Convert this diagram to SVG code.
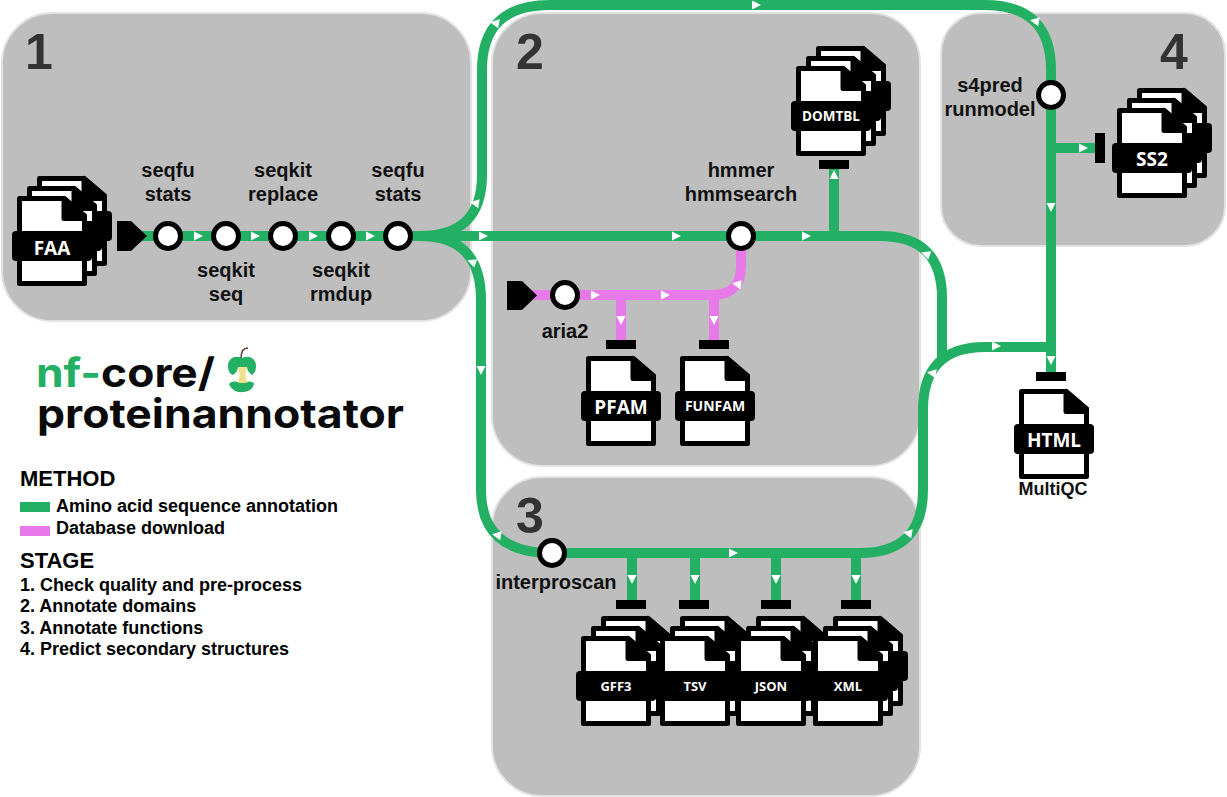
<svg xmlns="http://www.w3.org/2000/svg" xmlns:xlink="http://www.w3.org/1999/xlink" width="1227" height="797" viewBox="0 0 1227 797">
<style>
.panel{fill:#bebebe;stroke:#e2e2e2;stroke-width:2}
.num{font:bold 50px "Liberation Sans",Arial,sans-serif;fill:#333}
.lab{font:bold 20px "Liberation Sans",Arial,sans-serif;fill:#111;text-anchor:middle}
.leg{font:bold 18px "Liberation Sans",Arial,sans-serif;fill:#000}
.head{font:bold 22px "Liberation Sans",Arial,sans-serif;fill:#000}
.logo{font:bold 40px Inter,"Open Sans",sans-serif;fill:#0a0a0a}
.ft{font-family:"Open Sans","Noto Sans",sans-serif;font-weight:700;fill:#fff;text-anchor:middle}
.g{fill:none;stroke:#24b064;stroke-width:10}
.p{fill:none;stroke:#e879e8;stroke-width:10}
.st{fill:#fff;stroke:#000;stroke-width:5}
.bar{fill:#000}
.ah{fill:#fff}
.body{fill:#fff;stroke:#000;stroke-width:5;stroke-linejoin:round}
.fold{fill:#000;stroke:#000;stroke-width:5;stroke-linejoin:round}
</style>
<defs>
<polygon id="a" class="ah" points="-4,-4.500 5,0 -4,4.500"/>
<g id="f">
<path class="body" d="M2.5,2.500H47L67.5,20V87.500H2.500Z"/>
<path class="fold" d="M47,2.500V22.500H67.5V20Z"/>
<rect class="bar" x="-5" y="35" width="80" height="30" rx="4"/>
</g>
<g id="s"><use href="#f" x="20" y="-20"/><use href="#f" x="10" y="-10"/><use href="#f"/></g>
</defs>
<rect class="panel" x="2" y="13" width="469" height="308" rx="50"/>
<rect class="panel" x="492" y="13" width="428" height="453" rx="50"/>
<rect class="panel" x="492" y="477" width="428" height="319" rx="50"/>
<rect class="panel" x="941" y="13" width="284" height="233" rx="40"/>
<text class="num" x="25" y="69">1</text>
<text class="num" x="516" y="69">2</text>
<text class="num" x="516" y="533">3</text>
<text class="num" x="1160" y="69">4</text>
<g id="connectors">
<path class="p" d="M525,295H712Q741,295 741,266V236"/>
<path class="p" d="M621,295V345M714,295V345"/>
<path class="g" d="M135,236H880Q942,236 942,298V360"/>
<path class="g" d="M420,236Q482,236 482,175V70Q482,5 550,5H985Q1051,5 1051,70V375"/>
<path class="g" d="M420,236Q481,236 481,300V490Q481,553 552,553H860Q923,553 923,490V410Q923,347 985,347H1051"/>
<path class="g" d="M834,236V165M1051,148H1098M632,553V603M695,553V603M776,553V603M856,553V603"/>
<use href="#a" transform="translate(198,236)"/><use href="#a" transform="translate(255,236)"/><use href="#a" transform="translate(313,236)"/><use href="#a" transform="translate(370,236)"/>
<use href="#a" transform="translate(483,236)"/><use href="#a" transform="translate(676,236)"/><use href="#a" transform="translate(806,236)"/>
<use href="#a" transform="translate(475,203) rotate(190)"/><use href="#a" transform="translate(495,23) rotate(190)"/><use href="#a" transform="translate(756,5)"/><use href="#a" transform="translate(1035,21) rotate(190)"/>
<use href="#a" transform="translate(1051,207) rotate(90)"/><use href="#a" transform="translate(1051,360) rotate(90)"/><use href="#a" transform="translate(1083,148)"/><use href="#a" transform="translate(834,175) rotate(-90)"/>
<use href="#a" transform="translate(926,254) rotate(200)"/><use href="#a" transform="translate(932,373) rotate(190)"/><use href="#a" transform="translate(996,346)"/>
<use href="#a" transform="translate(472,262) rotate(200)"/><use href="#a" transform="translate(481,370) rotate(90)"/><use href="#a" transform="translate(497,535) rotate(190)"/><use href="#a" transform="translate(733,553)"/><use href="#a" transform="translate(908,533) rotate(190)"/>
<use href="#a" transform="translate(595,295)"/><use href="#a" transform="translate(665,295)"/><use href="#a" transform="translate(621,320) rotate(90)"/><use href="#a" transform="translate(714,320) rotate(90)"/><use href="#a" transform="translate(737,284) rotate(190)"/>
<use href="#a" transform="translate(632,579) rotate(90)"/><use href="#a" transform="translate(695,579) rotate(90)"/><use href="#a" transform="translate(776,579) rotate(90)"/><use href="#a" transform="translate(856,579) rotate(90)"/>
<polygon class="bar" points="117,221 131,221 147,236 131,251 117,251"/>
<polygon class="bar" points="507,281 522,281 537,295.500 522,310 507,310"/>
<rect class="bar" x="606" y="340" width="30" height="9"/><rect class="bar" x="699" y="340" width="30" height="9"/>
<rect class="bar" x="819" y="160" width="30" height="9"/><rect class="bar" x="1095" y="133" width="10" height="30"/><rect class="bar" x="1036" y="372" width="30" height="9"/>
<rect class="bar" x="616" y="600" width="30" height="9"/><rect class="bar" x="679" y="600" width="30" height="9"/><rect class="bar" x="761" y="600" width="30" height="9"/><rect class="bar" x="841" y="600" width="30" height="9"/>
</g>
<g id="st-seqfu1"><circle class="st" cx="168" cy="236" r="12.500"/><text class="lab" x="168" y="177">seqfu</text><text class="lab" x="168" y="201">stats</text></g>
<g id="st-seqkitseq"><circle class="st" cx="226" cy="236" r="12.500"/><text class="lab" x="226" y="277">seqkit</text><text class="lab" x="226" y="301">seq</text></g>
<g id="st-replace"><circle class="st" cx="283" cy="236" r="12.500"/><text class="lab" x="283" y="177">seqkit</text><text class="lab" x="283" y="201">replace</text></g>
<g id="st-rmdup"><circle class="st" cx="341" cy="236" r="12.500"/><text class="lab" x="341" y="277">seqkit</text><text class="lab" x="341" y="301">rmdup</text></g>
<g id="st-seqfu2"><circle class="st" cx="398" cy="236" r="12.500"/><text class="lab" x="398" y="177">seqfu</text><text class="lab" x="398" y="201">stats</text></g>
<g id="st-hmmer"><circle class="st" cx="741" cy="236" r="12.500"/><text class="lab" x="741" y="177">hmmer</text><text class="lab" x="741" y="201">hmmsearch</text></g>
<g id="st-aria2"><circle class="st" cx="565" cy="295" r="12.500"/><text class="lab" x="565" y="338">aria2</text></g>
<g id="st-interpro"><circle class="st" cx="552" cy="553" r="12.500"/><text class="lab" x="556" y="589">interproscan</text></g>
<g id="st-s4pred"><circle class="st" cx="1051" cy="95" r="12.500"/><text class="lab" x="990" y="92">s4pred</text><text class="lab" x="990" y="116">runmodel</text></g>
<g id="file-faa"><use href="#s" x="17" y="196"/><text class="ft" x="52" y="255" font-size="19">FAA</text></g>
<g id="file-domtbl"><use href="#s" x="796" y="66"/><text class="ft" x="831" y="121" font-size="13.500">DOMTBL</text></g>
<g id="file-ss2"><use href="#s" x="1117" y="108"/><text class="ft" x="1152" y="166" font-size="19">SS2</text></g>
<g id="file-pfam"><use href="#f" x="586" y="356"/><text class="ft" x="621" y="414" font-size="19">PFAM</text></g>
<g id="file-funfam"><use href="#f" x="680" y="356"/><text class="ft" x="715" y="411" font-size="14">FUNFAM</text></g>
<g id="file-html"><use href="#f" x="1019" y="389"/><text class="ft" x="1054" y="447" font-size="19">HTML</text><text class="lab" x="1053" y="495" style="font-size:18px">MultiQC</text></g>
<g id="file-gff3"><use href="#s" x="581" y="636"/><text class="ft" x="616" y="691" font-size="13">GFF3</text></g>
<g id="file-tsv"><use href="#s" x="660" y="636"/><text class="ft" x="695" y="691" font-size="13">TSV</text></g>
<g id="file-json"><use href="#s" x="736" y="636"/><text class="ft" x="771" y="691" font-size="13">JSON</text></g>
<g id="file-xml"><use href="#s" x="813" y="636"/><text class="ft" x="848" y="691" font-size="13">XML</text></g>
<g id="logo">
<text class="logo" x="36" y="387" textLength="179" lengthAdjust="spacingAndGlyphs"><tspan fill="#24b064">nf-</tspan>core/</text>
<text class="logo" x="37" y="428" textLength="367" lengthAdjust="spacingAndGlyphs">proteinannotator</text>
<path d="M238,367H247C245,373 245,377 248,383H238C240,377 240,373 238,367Z" fill="#efe08e"/>
<path d="M242,358C236,355 228,358 228,366C228,371 230,374 233,375C236,373 238,370 238,367H247C247,370 249,373 252,375C255,373 256,370 256,366C256,358 248,355 242,358Z" fill="#24b064"/>
<path d="M229,384C232,381 236,381 239,383H246C248,381 251,381 254,383C254,388 249,392 243,392C236,393 231,389 229,384Z" fill="#24b064"/>
<path d="M241,358C241,352 243,348 248,348" fill="none" stroke="#5a3a2a" stroke-width="1.500"/>
</g>
<g id="legend">
<text class="head" x="20" y="486">METHOD</text>
<rect x="20" y="502" width="30" height="10" fill="#24b064"/><text class="leg" x="56" y="512">Amino acid sequence annotation</text>
<rect x="20" y="526" width="30" height="10" fill="#e879e8"/><text class="leg" x="56" y="534">Database download</text>
<text class="head" x="20" y="568">STAGE</text>
<text class="leg" x="20" y="591">1. Check quality and pre-process</text>
<text class="leg" x="20" y="612">2. Annotate domains</text>
<text class="leg" x="20" y="634">3. Annotate functions</text>
<text class="leg" x="20" y="655">4. Predict secondary structures</text>
</g>
</svg>
